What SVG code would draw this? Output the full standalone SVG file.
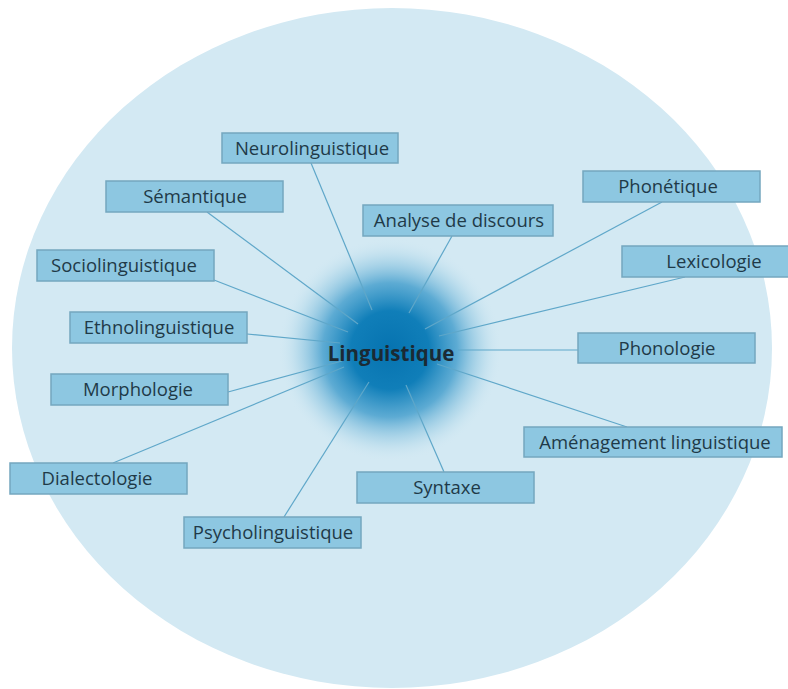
<svg xmlns="http://www.w3.org/2000/svg" width="788" height="689" viewBox="0 0 788 689">
  <defs>
    <radialGradient id="glow" cx="390" cy="350" r="112" gradientUnits="userSpaceOnUse">
      <stop offset="0" stop-color="#0673b0" stop-opacity="1"/>
      <stop offset="0.35" stop-color="#0a7bb7" stop-opacity="0.97"/>
      <stop offset="0.6" stop-color="#2f93c7" stop-opacity="0.72"/>
      <stop offset="0.82" stop-color="#86c2df" stop-opacity="0.35"/>
      <stop offset="1" stop-color="#d3e9f3" stop-opacity="0"/>
    </radialGradient>
    <style>
      .box { fill: #8dc7e1; stroke: #74a7bf; stroke-width: 1.5; }
      .lbl { font-family: "Open Sans", "Noto Sans", "Liberation Sans", sans-serif; font-size: 18.5px; font-weight: 500; fill: #1f3a48; text-anchor: middle; }
      .conn line { stroke: #5fa7c9; stroke-width: 1.2; }
      .center { font-family: "Open Sans", "Liberation Sans", sans-serif; font-size: 20.5px; font-weight: bold; fill: #1b2a34; text-anchor: middle; }
    </style>
  </defs>
  <rect width="788" height="689" fill="#ffffff"/>
  <ellipse cx="392" cy="348" rx="380" ry="340" fill="#d3e9f3"/>
  <circle cx="390" cy="350" r="112" fill="url(#glow)"/>
  <g class="conn">
    <line x1="311" y1="163" x2="372" y2="310"/>
    <line x1="207" y1="212" x2="358" y2="324"/>
    <line x1="452" y1="236" x2="409" y2="313"/>
    <line x1="662" y1="202" x2="425" y2="329"/>
    <line x1="685" y1="277" x2="439" y2="336"/>
    <line x1="578" y1="350" x2="458" y2="350"/>
    <line x1="627" y1="427" x2="437" y2="364"/>
    <line x1="444" y1="472" x2="406" y2="385"/>
    <line x1="284" y1="517" x2="369" y2="382"/>
    <line x1="113" y1="463" x2="344" y2="367"/>
    <line x1="228" y1="392" x2="342" y2="361"/>
    <line x1="247" y1="334" x2="340" y2="343"/>
    <line x1="214" y1="280" x2="348" y2="332"/>
  </g>
  <g id="linguistique"><text class="center" x="391" y="361">Linguistique</text></g>
  <g id="neurolinguistique"><rect class="box" x="222" y="133" width="176" height="30"/><text class="lbl" x="312" y="155">Neurolinguistique</text></g>
  <g id="semantique"><rect class="box" x="106" y="181" width="177" height="31"/><text class="lbl" x="195" y="203">Sémantique</text></g>
  <g id="analyse"><rect class="box" x="363" y="205" width="190" height="31"/><text class="lbl" x="459" y="227">Analyse de discours</text></g>
  <g id="phonetique"><rect class="box" x="583" y="171" width="177" height="31"/><text class="lbl" x="668" y="193">Phonétique</text></g>
  <g id="lexicologie"><rect class="box" x="622" y="246" width="180" height="31"/><text class="lbl" x="714" y="268">Lexicologie</text></g>
  <g id="sociolinguistique"><rect class="box" x="37" y="250" width="177" height="31"/><text class="lbl" x="124" y="272">Sociolinguistique</text></g>
  <g id="ethnolinguistique"><rect class="box" x="70" y="312" width="177" height="31"/><text class="lbl" x="159" y="334">Ethnolinguistique</text></g>
  <g id="phonologie"><rect class="box" x="578" y="333" width="177" height="30"/><text class="lbl" x="667" y="355">Phonologie</text></g>
  <g id="morphologie"><rect class="box" x="51" y="374" width="177" height="31"/><text class="lbl" x="138" y="396">Morphologie</text></g>
  <g id="amenagement"><rect class="box" x="524" y="427" width="258" height="30"/><text class="lbl" x="655" y="449">Aménagement linguistique</text></g>
  <g id="dialectologie"><rect class="box" x="10" y="463" width="177" height="31"/><text class="lbl" x="97" y="485">Dialectologie</text></g>
  <g id="syntaxe"><rect class="box" x="357" y="472" width="177" height="31"/><text class="lbl" x="447" y="494">Syntaxe</text></g>
  <g id="psycholinguistique"><rect class="box" x="184" y="517" width="177" height="31"/><text class="lbl" x="273" y="539">Psycholinguistique</text></g>
</svg>
